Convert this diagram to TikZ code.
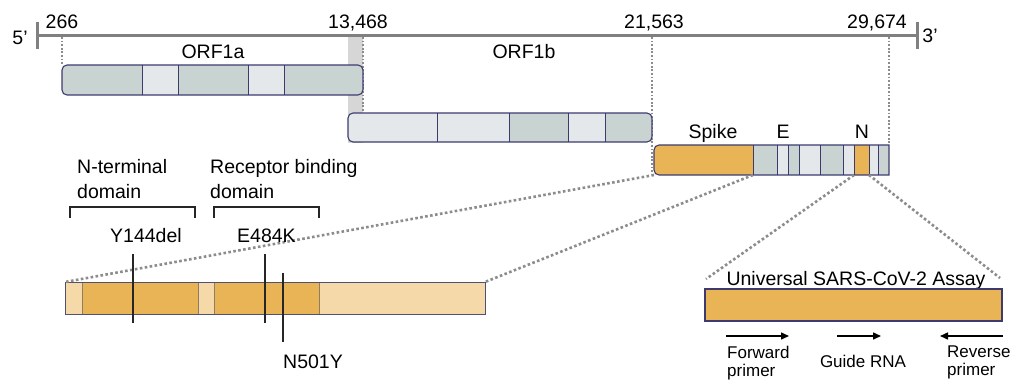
\documentclass[tikz,border=0pt]{standalone}
\usepackage{fontspec}
\setmainfont{Liberation Sans}
\usetikzlibrary{arrows.meta}

\definecolor{navy}{HTML}{3D3B6E}
\definecolor{orfdark}{HTML}{C9D3D1}
\definecolor{orflight}{HTML}{E4E8EA}
\definecolor{spikeor}{HTML}{E8B456}
\definecolor{spikelt}{HTML}{F5D9A9}
\definecolor{bandgrey}{HTML}{D6D6D6}
\definecolor{dotgrey}{HTML}{8C8C8C}
\definecolor{axisgrey}{HTML}{808080}
\definecolor{segbrown}{HTML}{8E7D62}

\begin{document}
\begin{tikzpicture}[x=1pt,y=-1pt]
\tikzstyle{lbl}=[font=\fontsize{19.5}{25}\selectfont, inner sep=0pt]
\tikzstyle{small}=[font=\fontsize{17}{18}\selectfont, inner sep=0pt, align=left]
\tikzstyle{box}=[draw=navy, line width=1.1pt]
\tikzstyle{seg}=[navy, line width=1pt]
\tikzstyle{guide}=[dotgrey, line width=1.8pt, dash pattern=on 1.8pt off 1.8pt]
\tikzstyle{zoomline}=[dotgrey, line width=2.6pt, dash pattern=on 2.6pt off 2.4pt]
\tikzstyle{bracket}=[black!85, line width=2.8pt]
\tikzstyle{mut}=[black!85, line width=2.8pt]
\tikzstyle{primer}=[line width=1.5pt, -{Triangle[length=8pt,width=7pt]}]
\useasboundingbox (0,0) rectangle (1013,381);

\fill[bandgrey] (348,35) rectangle (363,143);

\coordinate (g5) at (37,35);
\coordinate (g3) at (917,35);
\draw[axisgrey, line width=3pt] (g5) -- (g3);
\draw[axisgrey, line width=3pt] (37,22) -- (37,49);
\draw[axisgrey, line width=3pt] (917,22) -- (917,49);
\node[lbl] (five) at (20,38) {5’};
\node[lbl] (three) at (930,36) {3’};

\node[lbl, anchor=base] (p266) at (62,28) {266};
\node[lbl, anchor=base east] (p13468) at (388,28) {13,468};
\node[lbl, anchor=base] (p21563) at (654,28) {21,563};
\node[lbl, anchor=base east] (p29674) at (907,28) {29,674};

\draw[guide] (62,37) -- (62,65);
\draw[guide] (363,37) -- (363,113);
\draw[guide] (652,37) -- (652,175);
\draw[guide] (889,37) -- (889,145);

% ORF1a
\begin{scope}
\clip[rounded corners=5pt] (62,65) rectangle (363,95);
\foreach \a/\b/\c in {62/142/orfdark,142/178/orflight,178/248/orfdark,248/284/orflight,284/363/orfdark}
  \fill[\c] (\a,65) rectangle (\b,95);
\end{scope}
\foreach \x in {142,178,248,284}
  \draw[seg] (\x,65) -- (\x,95);
\draw[box, rounded corners=5pt] (62,65) rectangle (363,95);
\node[lbl, anchor=base] (orf1a) at (213,58) {ORF1a};

% ORF1b
\begin{scope}
\clip[rounded corners=5pt] (348,113) rectangle (652,142);
\foreach \a/\b/\c in {348/437/orflight,437/509/orflight,509/568/orfdark,568/605/orflight,605/652/orfdark}
  \fill[\c] (\a,113) rectangle (\b,142);
\end{scope}
\foreach \x in {437,509,568,605}
  \draw[seg] (\x,113) -- (\x,142);
\draw[box, rounded corners=5pt] (348,113) rectangle (652,142);
\node[lbl, anchor=base] (orf1b) at (524,58) {ORF1b};

% structural genes
\begin{scope}
\clip (889,175) -- (889,145) [rounded corners=5pt] -- (654,145) -- (654,175) -- (700,175) [sharp corners] -- cycle;
\foreach \a/\b/\c in {654/753/spikeor,753/777/orfdark,777/788/orflight,788/799/orfdark,799/820/orflight,820/843/orfdark,843/854/orflight,854/869/spikeor,869/878/orflight,878/889/orfdark}
  \fill[\c] (\a,145) rectangle (\b,175);
\end{scope}
\foreach \x in {753,777,788,799,820,843,854,869,878}
  \draw[seg] (\x,145) -- (\x,175);
\draw[box] (889,175) -- (889,145) [rounded corners=5pt] -- (654,145) -- (654,175) -- (700,175) [sharp corners] -- cycle;
\node[lbl, anchor=base] (spike) at (713,138) {Spike};
\node[lbl, anchor=base] (egene) at (783,138) {E};
\node[lbl, anchor=base] (ngene) at (862,138) {N};

\coordinate (spkL) at (654,175);
\coordinate (spkR) at (753,175);
\coordinate (nL) at (854,175);
\coordinate (nR) at (869,175);

% spike detail
\foreach \a/\b/\c in {65/82/spikelt,82/198/spikeor,198/214/spikelt,214/319/spikeor,319/485/spikelt}
  \fill[\c] (\a,282) rectangle (\b,314);
\foreach \x in {82,198,214,319}
  \draw[segbrown, line width=0.9pt] (\x,282) -- (\x,314);
\draw[draw=navy!70!gray, line width=0.9pt] (65,282) rectangle (485,314);
\coordinate (detL) at (65,282);
\coordinate (detR) at (485,282);

\draw[zoomline] (spkL) -- (detL);
\draw[zoomline] (spkR) -- (detR);

\node[lbl, anchor=north west, align=left] (ntd) at (77,159) {N-terminal\\domain};
\node[lbl, anchor=north west, align=left] (rbd) at (210,159) {Receptor binding\\domain};
\draw[bracket] (70,218) -- (70,207) -- (195,207) -- (195,218);
\draw[bracket] (214,218) -- (214,207) -- (319,207) -- (319,218);

\node[lbl, anchor=base west] (y144) at (110,242) {Y144del};
\node[lbl, anchor=base west] (e484) at (237,242) {E484K};
\node[lbl, anchor=base west] (n501) at (283,368) {N501Y};
\draw[mut] (133,254) -- (133,323);
\draw[mut] (265,254) -- (265,323);
\draw[mut] (283,273) -- (283,342);

% assay
\coordinate (asL) at (706,279);
\coordinate (asR) at (1000,278);
\draw[zoomline] (nL) -- (asL);
\draw[zoomline] (nR) -- (asR);
\node[lbl, anchor=base] (assay) at (856,285) {Universal SARS-CoV-2 Assay};
\draw[box, fill=spikeor] (705,289) rectangle (1002,321);

\coordinate (fw1) at (726,336);
\coordinate (fw2) at (789,336);
\coordinate (gd1) at (837,336);
\coordinate (gd2) at (881,336);
\coordinate (rv1) at (1003,336);
\coordinate (rv2) at (940,336);
\draw[primer] (fw1) -- (fw2);
\draw[primer] (gd1) -- (gd2);
\draw[primer] (rv1) -- (rv2);
\node[small, anchor=north west] (fwd) at (727,346) {Forward\\primer};
\node[small, anchor=base] (guide) at (863,367) {Guide RNA};
\node[small, anchor=north west] (rev) at (947,346) {Reverse\\primer};
\end{tikzpicture}
\end{document}
